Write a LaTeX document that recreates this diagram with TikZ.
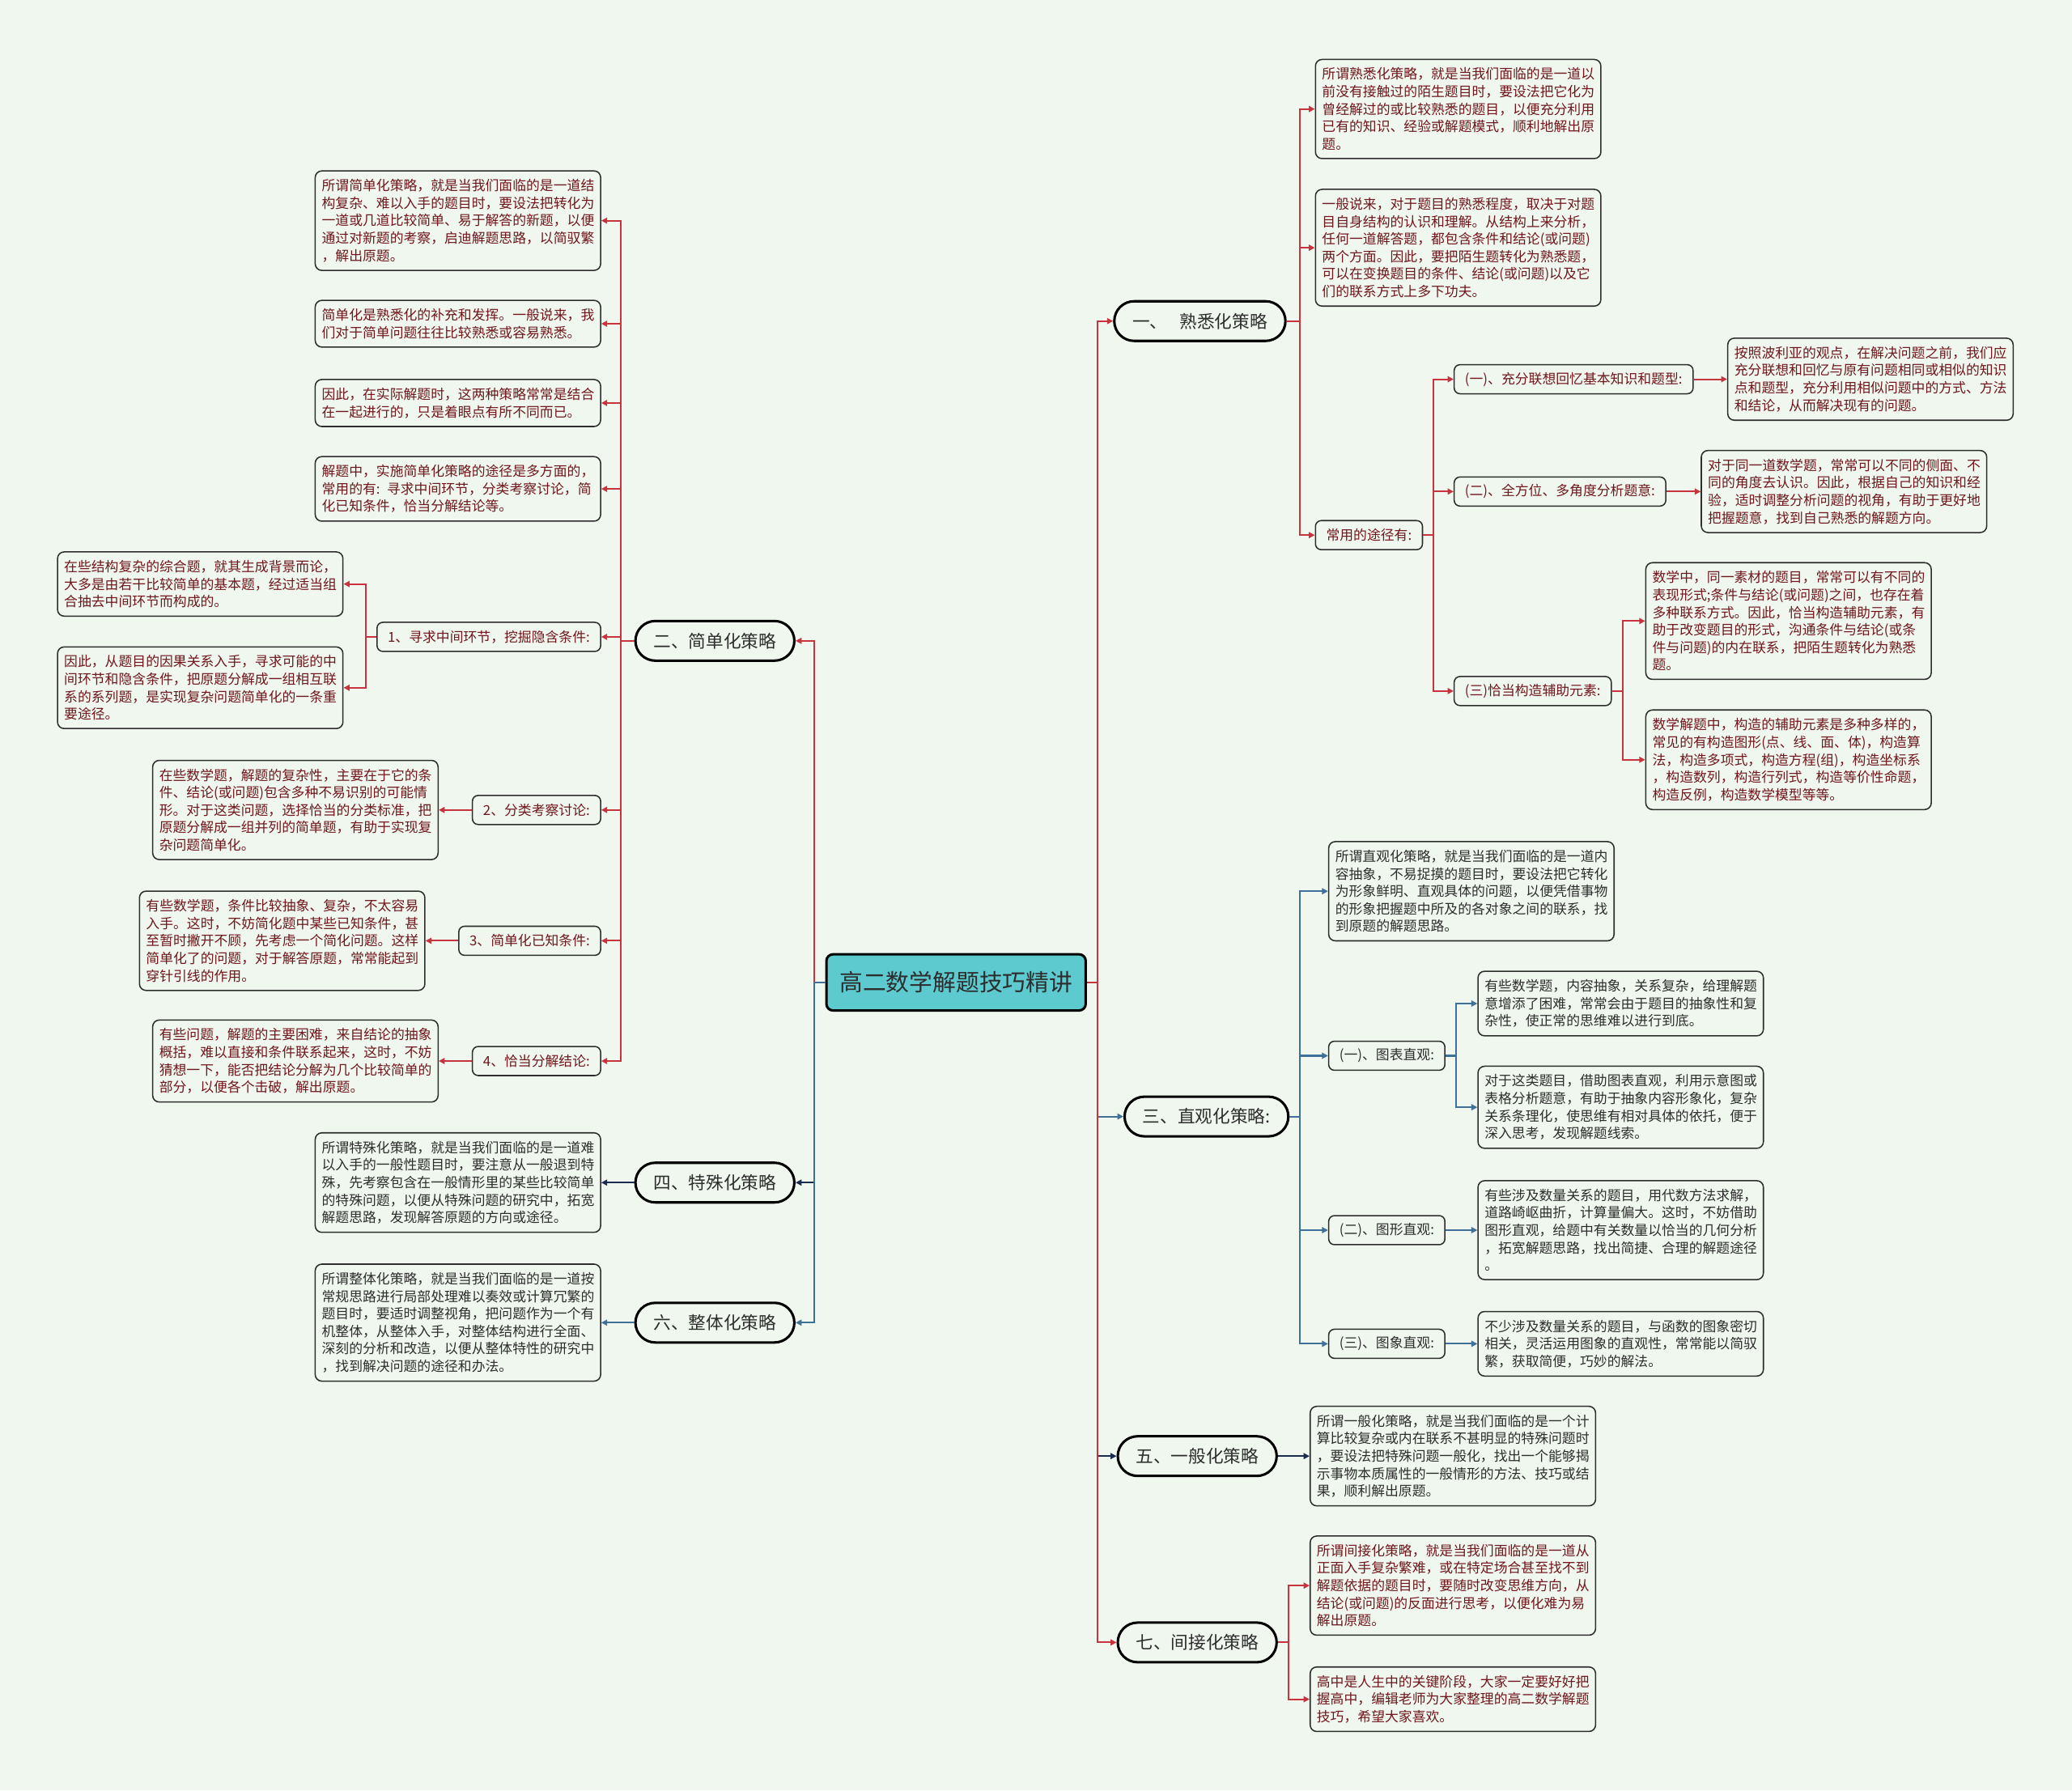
\documentclass[tikz,border=0pt]{standalone}
\usepackage{fontspec}
\setmainfont{Noto Sans CJK SC}
\usepackage{tikz}
\usetikzlibrary{arrows.meta,positioning}
\definecolor{bgG}{RGB}{239,247,238}
\definecolor{lineR}{RGB}{200,52,62}
\definecolor{lineB}{RGB}{62,112,152}
\definecolor{lineN}{RGB}{28,44,78}
\definecolor{txtR}{RGB}{112,22,28}
\definecolor{txtD}{RGB}{45,45,45}
\definecolor{hubC}{RGB}{92,202,206}

\begin{document}
\begin{tikzpicture}[x=0.8pt, y=-0.8pt, >={Triangle[length=3.6pt,width=3.6pt]},
  font=\fontsize{8.25}{10.6}\selectfont,
  hub/.style={rectangle, rounded corners=4pt, draw=black, line width=1.5pt, fill=hubC,
              minimum width=157pt, minimum height=34pt, text=txtD,
              font=\fontsize{14.1}{16}\selectfont},
  topic/.style={rectangle, rounded corners=12pt, draw=black, line width=1.5pt, fill=bgG,
                minimum height=24pt, inner xsep=11pt, text=txtD,
                font=\fontsize{10.6}{12}\selectfont},
  sub/.style={rectangle, rounded corners=3.5pt, draw=txtD, line width=0.75pt, fill=bgG,
              minimum height=17.6pt, inner xsep=6.5pt},
  leaf/.style={rectangle, rounded corners=4pt, draw=txtD, line width=0.75pt, fill=bgG,
               text width=164.8pt, align=left, inner xsep=4pt, inner ysep=5pt},
  subR/.style={sub, text=txtR}, subD/.style={sub, text=txtD},
  leafR/.style={leaf, text=txtR}, leafD/.style={leaf, text=txtD},
  lnR/.style={->, color=lineR, line width=1pt},
  lnB/.style={->, color=lineB, line width=1pt},
  lnN/.style={->, color=lineN, line width=1pt}]

  \fill[bgG] (0,0) rectangle (1568,1355);

  % centre and main topics
  \node[hub] (root) at (723.5,743.5) {高二数学解题技巧精讲};
  \node[topic] (n1) at (908,243) {一、\hspace{0.7em}熟悉化策略};
  \node[topic] (n2) at (541,485) {二、简单化策略};
  \node[topic] (n3) at (913,845) {三、直观化策略:};
  \node[topic] (n4) at (541,895) {四、特殊化策略};
  \node[topic] (n5) at (906,1102) {五、一般化策略};
  \node[topic] (n6) at (541,1001) {六、整体化策略};
  \node[topic] (n7) at (906,1243) {七、间接化策略};

  % 二 简单化
  \node[leafR, anchor=east] (s1) at (455,167) {所谓简单化策略，就是当我们面临的是一道结\\
构复杂、难以入手的题目时，要设法把转化为\\
一道或几道比较简单、易于解答的新题，以便\\
通过对新题的考察，启迪解题思路，以简驭繁\\
，解出原题。};
  \node[leafR, anchor=east] (s2) at (455,245) {简单化是熟悉化的补充和发挥。一般说来，我\\
们对于简单问题往往比较熟悉或容易熟悉。};
  \node[leafR, anchor=east] (s3) at (455,305) {因此，在实际解题时，这两种策略常常是结合\\
在一起进行的，只是着眼点有所不同而已。};
  \node[leafR, anchor=east] (s4) at (455,370) {解题中，实施简单化策略的途径是多方面的，\\
常用的有: 寻求中间环节，分类考察讨论，简\\
化已知条件，恰当分解结论等。};
  \node[subR, anchor=east] (k1) at (455,482) {1、寻求中间环节，挖掘隐含条件:};
  \node[leafR, anchor=east] (s5) at (260,442) {在些结构复杂的综合题，就其生成背景而论，\\
大多是由若干比较简单的基本题，经过适当组\\
合抽去中间环节而构成的。};
  \node[leafR, anchor=east] (s6) at (260,520.5) {因此，从题目的因果关系入手，寻求可能的中\\
间环节和隐含条件，把原题分解成一组相互联\\
系的系列题，是实现复杂问题简单化的一条重\\
要途径。};
  \node[subR, anchor=east] (k2) at (455,613) {2、分类考察讨论:};
  \node[leafR, anchor=east] (s7) at (332,613) {在些数学题，解题的复杂性，主要在于它的条\\
件、结论(或问题)包含多种不易识别的可能情\\
形。对于这类问题，选择恰当的分类标准，把\\
原题分解成一组并列的简单题，有助于实现复\\
杂问题简单化。};
  \node[subR, anchor=east] (k3) at (455,712) {3、简单化已知条件:};
  \node[leafR, anchor=east] (s8) at (322,712) {有些数学题，条件比较抽象、复杂，不太容易\\
入手。这时，不妨简化题中某些已知条件，甚\\
至暂时撇开不顾，先考虑一个简化问题。这样\\
简单化了的问题，对于解答原题，常常能起到\\
穿针引线的作用。};
  \node[subR, anchor=east] (k4) at (455,803) {4、恰当分解结论:};
  \node[leafR, anchor=east] (s9) at (332,803) {有些问题，解题的主要困难，来自结论的抽象\\
概括，难以直接和条件联系起来，这时，不妨\\
猜想一下，能否把结论分解为几个比较简单的\\
部分，以便各个击破，解出原题。};

  % 四 特殊化, 六 整体化
  \node[leafD, anchor=east] (t1) at (455,895) {所谓特殊化策略，就是当我们面临的是一道难\\
以入手的一般性题目时，要注意从一般退到特\\
殊，先考察包含在一般情形里的某些比较简单\\
的特殊问题，以便从特殊问题的研究中，拓宽\\
解题思路，发现解答原题的方向或途径。};
  \node[leafD, anchor=east] (w1) at (455,1001) {所谓整体化策略，就是当我们面临的是一道按\\
常规思路进行局部处理难以奏效或计算冗繁的\\
题目时，要适时调整视角，把问题作为一个有\\
机整体，从整体入手，对整体结构进行全面、\\
深刻的分析和改造，以便从整体特性的研究中\\
，找到解决问题的途径和办法。};

  % 一 熟悉化
  \node[leafR, anchor=west] (f1) at (995,82.5) {所谓熟悉化策略，就是当我们面临的是一道以\\
前没有接触过的陌生题目时，要设法把它化为\\
曾经解过的或比较熟悉的题目，以便充分利用\\
已有的知识、经验或解题模式，顺利地解出原\\
题。};
  \node[leafR, anchor=west] (f2) at (995,187.5) {一般说来，对于题目的熟悉程度，取决于对题\\
目自身结构的认识和理解。从结构上来分析，\\
任何一道解答题，都包含条件和结论(或问题)\\
两个方面。因此，要把陌生题转化为熟悉题，\\
可以在变换题目的条件、结论(或问题)以及它\\
们的联系方式上多下功夫。};
  \node[subR, anchor=west] (g0) at (995,405) {常用的途径有:};
  \node[subR, anchor=west] (g1) at (1100,287) {(一)、充分联想回忆基本知识和题型:};
  \node[leafR, anchor=west] (f3) at (1307,287) {按照波利亚的观点，在解决问题之前，我们应\\
充分联想和回忆与原有问题相同或相似的知识\\
点和题型，充分利用相似问题中的方式、方法\\
和结论，从而解决现有的问题。};
  \node[subR, anchor=west] (g2) at (1100,372) {(二)、全方位、多角度分析题意:};
  \node[leafR, anchor=west] (f4) at (1287,372) {对于同一道数学题，常常可以不同的侧面、不\\
同的角度去认识。因此，根据自己的知识和经\\
验，适时调整分析问题的视角，有助于更好地\\
把握题意，找到自己熟悉的解题方向。};
  \node[subR, anchor=west] (g3) at (1100,523) {(三)恰当构造辅助元素:};
  \node[leafR, anchor=west] (f5) at (1245,470) {数学中，同一素材的题目，常常可以有不同的\\
表现形式;条件与结论(或问题)之间，也存在着\\
多种联系方式。因此，恰当构造辅助元素，有\\
助于改变题目的形式，沟通条件与结论(或条\\
件与问题)的内在联系，把陌生题转化为熟悉\\
题。};
  \node[leafR, anchor=west] (f6) at (1245,575) {数学解题中，构造的辅助元素是多种多样的，\\
常见的有构造图形(点、线、面、体)，构造算\\
法，构造多项式，构造方程(组)，构造坐标系\\
，构造数列，构造行列式，构造等价性命题，\\
构造反例，构造数学模型等等。};

  % 三 直观化
  \node[leafD, anchor=west] (z1) at (1005,674.5) {所谓直观化策略，就是当我们面临的是一道内\\
容抽象，不易捉摸的题目时，要设法把它转化\\
为形象鲜明、直观具体的问题，以便凭借事物\\
的形象把握题中所及的各对象之间的联系，找\\
到原题的解题思路。};
  \node[subD, anchor=west] (h1) at (1005,799) {(一)、图表直观:};
  \node[leafD, anchor=west] (z2) at (1118,759.5) {有些数学题，内容抽象，关系复杂，给理解题\\
意增添了困难，常常会由于题目的抽象性和复\\
杂性，使正常的思维难以进行到底。};
  \node[leafD, anchor=west] (z3) at (1118,838) {对于这类题目，借助图表直观，利用示意图或\\
表格分析题意，有助于抽象内容形象化，复杂\\
关系条理化，使思维有相对具体的依托，便于\\
深入思考，发现解题线索。};
  \node[subD, anchor=west] (h2) at (1005,931) {(二)、图形直观:};
  \node[leafD, anchor=west] (z4) at (1118,931) {有些涉及数量关系的题目，用代数方法求解，\\
道路崎岖曲折，计算量偏大。这时，不妨借助\\
图形直观，给题中有关数量以恰当的几何分析\\
，拓宽解题思路，找出简捷、合理的解题途径\\
。};
  \node[subD, anchor=west] (h3) at (1005,1017) {(三)、图象直观:};
  \node[leafD, anchor=west] (z5) at (1118,1017) {不少涉及数量关系的题目，与函数的图象密切\\
相关，灵活运用图象的直观性，常常能以简驭\\
繁，获取简便，巧妙的解法。};

  % 五 一般化, 七 间接化
  \node[leafD, anchor=west] (y1) at (991,1102) {所谓一般化策略，就是当我们面临的是一个计\\
算比较复杂或内在联系不甚明显的特殊问题时\\
，要设法把特殊问题一般化，找出一个能够揭\\
示事物本质属性的一般情形的方法、技巧或结\\
果，顺利解出原题。};
  \node[leafR, anchor=west] (j1) at (991,1200) {所谓间接化策略，就是当我们面临的是一道从\\
正面入手复杂繁难，或在特定场合甚至找不到\\
解题依据的题目时，要随时改变思维方向，从\\
结论(或问题)的反面进行思考，以便化难为易\\
解出原题。};
  \node[leafR, anchor=west] (j2) at (991,1286) {高中是人生中的关键阶段，大家一定要好好把\\
握高中，编辑老师为大家整理的高二数学解题\\
技巧，希望大家喜欢。};

  % connectors
  \draw[lnR] (root.west) -- ++(-8,0) |- (n2.east);
  \draw[lnN] (root.west) -- ++(-8,0) |- (n4.east);
  \draw[lnB] (root.west) -- ++(-8,0) |- (n6.east);
  \draw[lnR] (root.east) -- ++(8,0) |- (n1.west);
  \draw[lnB] (root.east) -- ++(8,0) |- (n3.west);
  \draw[lnN] (root.east) -- ++(8,0) |- (n5.west);
  \draw[lnR] (root.east) -- ++(8,0) |- (n7.west);

  \foreach \t in {s1,s2,s3,s4,k1,k2,k3,k4}
    \draw[lnR] (n2.west) -- ++(-10,0) |- (\t.east);
  \foreach \t in {s5,s6}
    \draw[lnR] (k1.west) -- ++(-8,0) |- (\t.east);
  \draw[lnR] (k2.west) -- (s7.east);
  \draw[lnR] (k3.west) -- (s8.east);
  \draw[lnR] (k4.west) -- (s9.east);
  \draw[lnN] (n4.west) -- (t1.east);
  \draw[lnB] (n6.west) -- (w1.east);

  \foreach \t in {f1,f2,g0}
    \draw[lnR] (n1.east) -- ++(10,0) |- (\t.west);
  \foreach \t in {g1,g2,g3}
    \draw[lnR] (g0.east) -- ++(8,0) |- (\t.west);
  \draw[lnR] (g1.east) -- (f3.west);
  \draw[lnR] (g2.east) -- (f4.west);
  \foreach \t in {f5,f6}
    \draw[lnR] (g3.east) -- ++(8,0) |- (\t.west);

  \foreach \t in {z1,h1,h2,h3}
    \draw[lnB] (n3.east) -- ++(8,0) |- (\t.west);
  \foreach \t in {z2,z3}
    \draw[lnB] (h1.east) -- ++(8,0) |- (\t.west);
  \draw[lnB] (h2.east) -- (z4.west);
  \draw[lnB] (h3.east) -- (z5.west);

  \draw[lnN] (n5.east) -- (y1.west);
  \foreach \t in {j1,j2}
    \draw[lnR] (n7.east) -- ++(8,0) |- (\t.west);
\end{tikzpicture}
\end{document}
